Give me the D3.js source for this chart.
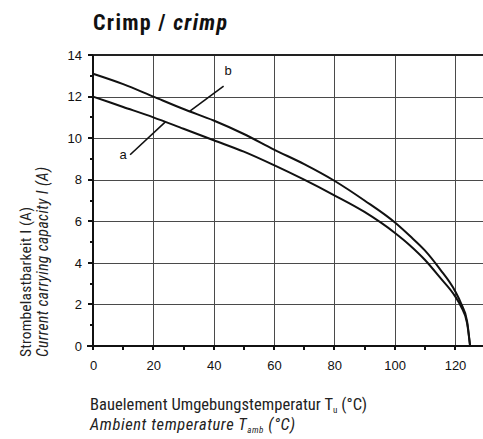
<!DOCTYPE html>
<html>
<head>
<meta charset="utf-8">
<script src="https://cdn.jsdelivr.net/npm/d3@7"></script>
<style>
  html, body { margin: 0; padding: 0; background: #fff; }
  svg { display: block; }
</style>
</head>
<body>
<svg id="chart" width="483" height="439"></svg>
<script>
// Ambient temperature (°C) and current carrying capacity (A) for the two crimp curves
const tempA = [0, 10, 20, 30, 40, 50, 60, 70, 80, 90, 100, 105, 110, 115, 120, 122, 124, 125];
const currentA = [12.0, 11.5, 11.0, 10.45, 9.9, 9.35, 8.7, 8.0, 7.25, 6.45, 5.45, 4.85, 4.15, 3.3, 2.4, 1.9, 1.1, 0];
const tempB = [0, 10, 20, 30, 40, 50, 60, 70, 80, 90, 100, 105, 110, 115, 120, 122, 124, 125];
const currentB = [13.1, 12.6, 12.0, 11.4, 10.85, 10.2, 9.45, 8.75, 7.95, 7.0, 5.95, 5.3, 4.6, 3.7, 2.65, 2.05, 1.2, 0];

const xMajorTicks = [0, 20, 40, 60, 80, 100, 120];
const xMinorTicks = [10, 30, 50, 70, 90, 110];
const yMajorTicks = [0, 2, 4, 6, 8, 10, 12, 14];
const yMinorTicks = [1, 3, 5, 7, 9, 11, 13];

// Curve labels with their leader lines: label point, leader start, and the temperature on the curve
const curveLabels = [
  { name: "a", labelT: 10.0, labelI: 9.0, fromT: 12.3, fromI: 9.2, toT: 24, series: "a" },
  { name: "b", labelT: 44.8, labelI: 13.05, fromT: 43.3, fromI: 12.5, toT: 32, series: "b" }
];

const NARROW = '"Roboto Condensed", "DejaVu Sans Condensed", sans-serif';
const TICKFONT = '"Liberation Sans", Arial, sans-serif';

const svg = d3.select("#chart");
const x = d3.scaleLinear().domain([0, 130]).range([93, 93 + 130 * (362 / 120)]);
const y = d3.scaleLinear().domain([0, 14]).range([346, 55]);

const seriesA = tempA.map((t, i) => [t, currentA[i]]);
const seriesB = tempB.map((t, i) => [t, currentB[i]]);
const seriesMap = { a: seriesA, b: seriesB };

function valueAt(series, t) {
  return d3.scaleLinear().domain(series.map(d => d[0])).range(series.map(d => d[1]))(t);
}

// Grid: a dark plot background with white cells, leaving 1px lines between them
const gx = [0, 20, 40, 60, 80, 100, 120, 130].map(d => Math.round(x(d)));
const gy = yMajorTicks.slice().reverse().map(d => Math.round(y(d)));
const grid = svg.append("g");
grid.append("rect")
  .attr("x", gx[0]).attr("y", gy[0] - 1)
  .attr("width", 483 - gx[0]).attr("height", gy[gy.length - 1] - gy[0] + 5)
  .attr("fill", "#4a4a4a");
grid.append("rect")
  .attr("x", gx[0]).attr("y", gy[0] - 1)
  .attr("width", 483 - gx[0]).attr("height", 2)
  .attr("fill", "#222");
const cells = [];
for (let i = 0; i < gx.length - 1; i++) {
  for (let j = 0; j < gy.length - 1; j++) {
    cells.push({ x0: gx[i] + 1, x1: i === gx.length - 2 ? 483 : gx[i + 1], y0: gy[j] + 1, y1: gy[j + 1] });
  }
}
// the strip below the x axis keeps only the short extensions of the vertical lines
for (let i = 0; i < gx.length - 1; i++) {
  cells.push({ x0: gx[i] + 1, x1: i === gx.length - 2 ? 483 : gx[i + 1], y0: gy[gy.length - 1], y1: gy[gy.length - 1] + 4 });
}
grid.selectAll("rect.cell").data(cells).join("rect")
  .attr("class", "cell")
  .attr("x", d => d.x0).attr("y", d => d.y0)
  .attr("width", d => d.x1 - d.x0).attr("height", d => d.y1 - d.y0)
  .attr("fill", "#fff");

// X axis
const xAxis = svg.append("g").attr("transform", `translate(0,${y(0)})`)
  .call(d3.axisBottom(x).tickValues(xMajorTicks).tickSize(4).tickPadding(11).tickFormat(d3.format("d")));
xAxis.attr("font-family", TICKFONT).attr("font-size", 13);
xAxis.select(".domain").remove();
xAxis.selectAll(".tick line").remove();
xAxis.selectAll(".tick text").attr("fill", "#111");
xAxis.append("rect")
  .attr("x", x(0) - 6).attr("y", -1).attr("width", x(130) - x(0) + 6).attr("height", 2)
  .attr("fill", "#111");

// Y axis
const yAxis = svg.append("g").attr("transform", `translate(${x(0)},0)`)
  .call(d3.axisLeft(y).tickValues(yMajorTicks).tickSize(5).tickPadding(6).tickFormat(d3.format("d")));
yAxis.attr("font-family", TICKFONT).attr("font-size", 13);
yAxis.select(".domain").remove();
yAxis.selectAll(".tick line").remove();
yAxis.selectAll(".tick text").attr("fill", "#111");
yAxis.append("rect")
  .attr("x", -1).attr("y", y(14)).attr("width", 2).attr("height", y(0) + 4 - y(14))
  .attr("fill", "#111");

// Tick marks (major and minor)
const ticks = svg.append("g").attr("fill", "#111");
ticks.selectAll("rect.tx").data(xMajorTicks.concat(xMinorTicks)).join("rect")
  .attr("class", "tx")
  .attr("x", d => Math.round(x(d)) - 1).attr("width", 2)
  .attr("y", Math.round(y(0))).attr("height", 4);
ticks.selectAll("rect.ty").data(yMajorTicks).join("rect")
  .attr("class", "ty")
  .attr("x", Math.round(x(0)) - 5).attr("width", 5)
  .attr("y", d => Math.round(y(d)) - 1).attr("height", 2);
ticks.selectAll("rect.tym").data(yMinorTicks).join("rect")
  .attr("class", "tym")
  .attr("x", Math.round(x(0)) - 3).attr("width", 3)
  .attr("y", d => Math.round(y(d)) - 1).attr("height", 2);

// Curves
const curvePath = d3.line().x(d => x(d[0])).y(d => y(d[1])).curve(d3.curveMonotoneX);
[seriesA, seriesB].forEach(s => {
  svg.append("path").attr("d", curvePath(s))
    .attr("fill", "none").attr("stroke", "#111").attr("stroke-width", 2);
});

// Curve labels
curveLabels.forEach(c => {
  const s = seriesMap[c.series];
  svg.append("path")
    .attr("d", `M${x(c.fromT)},${y(c.fromI)}L${x(c.toT)},${y(valueAt(s, c.toT))}`)
    .attr("fill", "none").attr("stroke", "#111").attr("stroke-width", 1.6);
  svg.append("text")
    .attr("font-family", TICKFONT).attr("font-size", 13).attr("fill", "#111")
    .attr("x", x(c.labelT)).attr("y", y(c.labelI))
    .attr("text-anchor", "middle")
    .text(c.name);
});

// Spread a text's letters so it spans the given width
function fitWidth(sel, width) {
  const node = sel.node();
  const w = node.getComputedTextLength();
  const n = node.textContent.length;
  if (n > 1) sel.attr("letter-spacing", ((width - w) / (n - 1)).toFixed(2));
  return sel;
}

// Title
const title = svg.append("text").attr("font-family", NARROW)
  .attr("x", 93).attr("y", 30).attr("font-size", 22).attr("font-weight", "bold").attr("fill", "#111");
title.append("tspan").text("Crimp / ");
title.append("tspan").attr("font-style", "italic").text("crimp");
fitWidth(title, 134);

// X axis title
const xt1 = svg.append("text").attr("font-family", NARROW).attr("x", 90).attr("y", 410)
  .attr("font-size", 16.5).attr("fill", "#222");
xt1.append("tspan").text("Bauelement Umgebungstemperatur T");
xt1.append("tspan").attr("font-size", 9).attr("dy", 3).text("u");
xt1.append("tspan").attr("dy", -3).text(" (°C)");
fitWidth(xt1, 277);
const xt2 = svg.append("text").attr("font-family", NARROW).attr("x", 90).attr("y", 430)
  .attr("font-size", 16.5).attr("font-style", "italic").attr("fill", "#222");
xt2.append("tspan").text("Ambient temperature T");
xt2.append("tspan").attr("font-size", 9).attr("dy", 3).text("amb");
xt2.append("tspan").attr("dy", -3).text(" (°C)");
fitWidth(xt2, 205);

// Y axis title
const yt1 = svg.append("text").attr("font-family", NARROW)
  .attr("transform", "translate(31,357) rotate(-90)")
  .attr("font-size", 15.5).attr("fill", "#222")
  .text("Strombelastbarkeit I (A)");
fitWidth(yt1, 150);
const yt2 = svg.append("text").attr("font-family", NARROW)
  .attr("transform", "translate(48,357) rotate(-90)")
  .attr("font-size", 15.5).attr("font-style", "italic").attr("fill", "#222")
  .text("Current carrying capacity I (A)");
fitWidth(yt2, 190);
</script>
</body>
</html>
